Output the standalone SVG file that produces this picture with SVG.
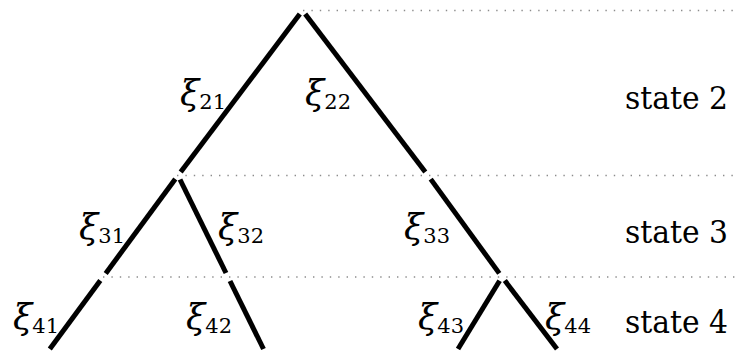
<svg xmlns="http://www.w3.org/2000/svg" width="735" height="351" viewBox="0 0 735 351">
<style>
.dot{stroke:#8c8c8c;stroke-width:1.4;stroke-dasharray:1.4 7;fill:none}
.edge{stroke:#000;stroke-width:5;stroke-linecap:butt;fill:none}
text{font-family:'DejaVu Serif',serif;font-size:31px;fill:#000}
.xi{font-style:italic;font-size:35px}
.sub{font-size:21px}
</style>
<rect width="735" height="351" fill="#fff"/>
<g id="levels">
<line class="dot" x1="303" y1="10.5" x2="735" y2="10.5"/>
<line class="dot" x1="177" y1="175.5" x2="735" y2="175.5"/>
<line class="dot" x1="103" y1="277" x2="735" y2="277"/>
</g>
<g id="connectors">
<line class="edge" x1="299.8" y1="14.1" x2="180.7" y2="171.9"/>
<line class="edge" x1="305.2" y1="14.1" x2="425.3" y2="171.9"/>
<line class="edge" x1="175.3" y1="179.1" x2="105.7" y2="273.4"/>
<line class="edge" x1="180" y1="179.5" x2="226" y2="273"/>
<line class="edge" x1="430.7" y1="179.1" x2="499.3" y2="273.4"/>
<line class="edge" x1="100.3" y1="280.6" x2="49.8" y2="349"/>
<line class="edge" x1="230" y1="281" x2="263.5" y2="349"/>
<line class="edge" x1="499.6" y1="280.8" x2="458" y2="349"/>
<line class="edge" x1="504.8" y1="280.6" x2="557" y2="349"/>
</g>
<g id="xi21"><text x="180" y="105"><tspan class="xi">ξ</tspan><tspan class="sub" dy="4">21</tspan></text></g>
<g id="xi22"><text x="305" y="105"><tspan class="xi">ξ</tspan><tspan class="sub" dy="4">22</tspan></text></g>
<g id="xi31"><text x="79" y="239"><tspan class="xi">ξ</tspan><tspan class="sub" dy="4">31</tspan></text></g>
<g id="xi32"><text x="218" y="239"><tspan class="xi">ξ</tspan><tspan class="sub" dy="4">32</tspan></text></g>
<g id="xi33"><text x="404" y="239"><tspan class="xi">ξ</tspan><tspan class="sub" dy="4">33</tspan></text></g>
<g id="xi41"><text x="13" y="329"><tspan class="xi">ξ</tspan><tspan class="sub" dy="4">41</tspan></text></g>
<g id="xi42"><text x="186" y="329"><tspan class="xi">ξ</tspan><tspan class="sub" dy="4">42</tspan></text></g>
<g id="xi43"><text x="418" y="329"><tspan class="xi">ξ</tspan><tspan class="sub" dy="4">43</tspan></text></g>
<g id="xi44"><text x="545" y="329"><tspan class="xi">ξ</tspan><tspan class="sub" dy="4">44</tspan></text></g>
<g id="state2"><text x="625" y="109" textLength="103" lengthAdjust="spacingAndGlyphs">state 2</text></g>
<g id="state3"><text x="625" y="243" textLength="103" lengthAdjust="spacingAndGlyphs">state 3</text></g>
<g id="state4"><text x="625" y="333" textLength="103" lengthAdjust="spacingAndGlyphs">state 4</text></g>
</svg>
